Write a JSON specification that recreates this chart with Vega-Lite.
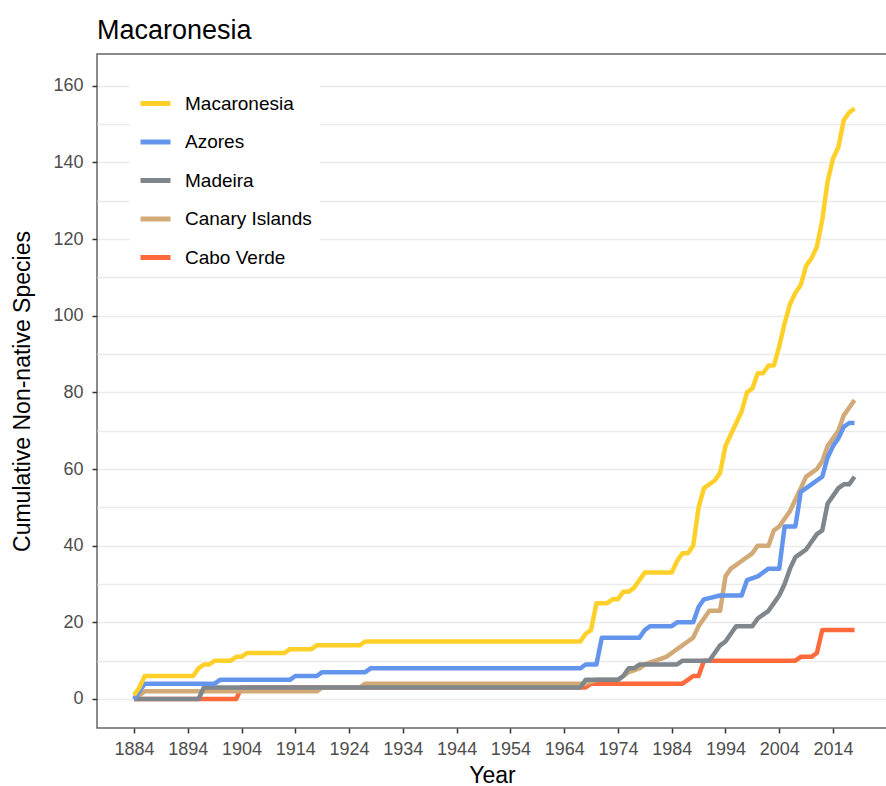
{
  "$schema": "https://vega.github.io/schema/vega-lite/v6.json",
  "autosize": {"type": "none"},
  "width": 790,
  "height": 674,
  "padding": {"left": 97, "top": 54, "right": 0, "bottom": 58},
  "background": "white",
  "config": {
    "font": "Liberation Sans",
    "view": {"stroke": "#666666", "strokeWidth": 1.5},
    "axis": {"labelFont": "Liberation Sans", "titleFont": "Liberation Sans"}
  },
  "title": {
    "text": "Macaronesia",
    "anchor": "start",
    "frame": "group",
    "fontSize": 27,
    "fontWeight": "normal",
    "color": "#000000",
    "baseline": "alphabetic",
    "offset": 16,
    "dy": 28
  },
  "data": {
    "values": [
      {"region": "Cabo Verde", "year": 1884, "species": 0},
      {"region": "Cabo Verde", "year": 1903, "species": 0},
      {"region": "Cabo Verde", "year": 1904, "species": 3},
      {"region": "Cabo Verde", "year": 1968, "species": 3},
      {"region": "Cabo Verde", "year": 1969, "species": 4},
      {"region": "Cabo Verde", "year": 1986, "species": 4},
      {"region": "Cabo Verde", "year": 1987, "species": 5},
      {"region": "Cabo Verde", "year": 1988, "species": 6},
      {"region": "Cabo Verde", "year": 1989, "species": 6},
      {"region": "Cabo Verde", "year": 1990, "species": 10},
      {"region": "Cabo Verde", "year": 2007, "species": 10},
      {"region": "Cabo Verde", "year": 2008, "species": 11},
      {"region": "Cabo Verde", "year": 2010, "species": 11},
      {"region": "Cabo Verde", "year": 2011, "species": 12},
      {"region": "Cabo Verde", "year": 2012, "species": 18},
      {"region": "Cabo Verde", "year": 2018, "species": 18},

      {"region": "Canary Islands", "year": 1884, "species": 0},
      {"region": "Canary Islands", "year": 1886, "species": 2},
      {"region": "Canary Islands", "year": 1918, "species": 2},
      {"region": "Canary Islands", "year": 1919, "species": 3},
      {"region": "Canary Islands", "year": 1926, "species": 3},
      {"region": "Canary Islands", "year": 1927, "species": 4},
      {"region": "Canary Islands", "year": 1968, "species": 4},
      {"region": "Canary Islands", "year": 1970, "species": 5},
      {"region": "Canary Islands", "year": 1974, "species": 5},
      {"region": "Canary Islands", "year": 1975, "species": 6},
      {"region": "Canary Islands", "year": 1976, "species": 7},
      {"region": "Canary Islands", "year": 1978, "species": 8},
      {"region": "Canary Islands", "year": 1979, "species": 9},
      {"region": "Canary Islands", "year": 1981, "species": 10},
      {"region": "Canary Islands", "year": 1983, "species": 11},
      {"region": "Canary Islands", "year": 1984, "species": 12},
      {"region": "Canary Islands", "year": 1985, "species": 13},
      {"region": "Canary Islands", "year": 1986, "species": 14},
      {"region": "Canary Islands", "year": 1987, "species": 15},
      {"region": "Canary Islands", "year": 1988, "species": 16},
      {"region": "Canary Islands", "year": 1989, "species": 19},
      {"region": "Canary Islands", "year": 1990, "species": 21},
      {"region": "Canary Islands", "year": 1991, "species": 23},
      {"region": "Canary Islands", "year": 1993, "species": 23},
      {"region": "Canary Islands", "year": 1994, "species": 32},
      {"region": "Canary Islands", "year": 1995, "species": 34},
      {"region": "Canary Islands", "year": 1996, "species": 35},
      {"region": "Canary Islands", "year": 1997, "species": 36},
      {"region": "Canary Islands", "year": 1998, "species": 37},
      {"region": "Canary Islands", "year": 1999, "species": 38},
      {"region": "Canary Islands", "year": 2000, "species": 40},
      {"region": "Canary Islands", "year": 2002, "species": 40},
      {"region": "Canary Islands", "year": 2003, "species": 44},
      {"region": "Canary Islands", "year": 2004, "species": 45},
      {"region": "Canary Islands", "year": 2005, "species": 47},
      {"region": "Canary Islands", "year": 2006, "species": 49},
      {"region": "Canary Islands", "year": 2007, "species": 52},
      {"region": "Canary Islands", "year": 2008, "species": 55},
      {"region": "Canary Islands", "year": 2009, "species": 58},
      {"region": "Canary Islands", "year": 2010, "species": 59},
      {"region": "Canary Islands", "year": 2011, "species": 60},
      {"region": "Canary Islands", "year": 2012, "species": 62},
      {"region": "Canary Islands", "year": 2013, "species": 66},
      {"region": "Canary Islands", "year": 2014, "species": 68},
      {"region": "Canary Islands", "year": 2015, "species": 70},
      {"region": "Canary Islands", "year": 2016, "species": 74},
      {"region": "Canary Islands", "year": 2017, "species": 76},
      {"region": "Canary Islands", "year": 2018, "species": 78},

      {"region": "Madeira", "year": 1884, "species": 0},
      {"region": "Madeira", "year": 1896, "species": 0},
      {"region": "Madeira", "year": 1897, "species": 3},
      {"region": "Madeira", "year": 1967, "species": 3},
      {"region": "Madeira", "year": 1968, "species": 5},
      {"region": "Madeira", "year": 1974, "species": 5},
      {"region": "Madeira", "year": 1975, "species": 6},
      {"region": "Madeira", "year": 1976, "species": 8},
      {"region": "Madeira", "year": 1977, "species": 8},
      {"region": "Madeira", "year": 1978, "species": 9},
      {"region": "Madeira", "year": 1985, "species": 9},
      {"region": "Madeira", "year": 1986, "species": 10},
      {"region": "Madeira", "year": 1991, "species": 10},
      {"region": "Madeira", "year": 1992, "species": 12},
      {"region": "Madeira", "year": 1993, "species": 14},
      {"region": "Madeira", "year": 1994, "species": 15},
      {"region": "Madeira", "year": 1995, "species": 17},
      {"region": "Madeira", "year": 1996, "species": 19},
      {"region": "Madeira", "year": 1999, "species": 19},
      {"region": "Madeira", "year": 2000, "species": 21},
      {"region": "Madeira", "year": 2001, "species": 22},
      {"region": "Madeira", "year": 2002, "species": 23},
      {"region": "Madeira", "year": 2003, "species": 25},
      {"region": "Madeira", "year": 2004, "species": 27},
      {"region": "Madeira", "year": 2005, "species": 30},
      {"region": "Madeira", "year": 2006, "species": 34},
      {"region": "Madeira", "year": 2007, "species": 37},
      {"region": "Madeira", "year": 2008, "species": 38},
      {"region": "Madeira", "year": 2009, "species": 39},
      {"region": "Madeira", "year": 2010, "species": 41},
      {"region": "Madeira", "year": 2011, "species": 43},
      {"region": "Madeira", "year": 2012, "species": 44},
      {"region": "Madeira", "year": 2013, "species": 51},
      {"region": "Madeira", "year": 2014, "species": 53},
      {"region": "Madeira", "year": 2015, "species": 55},
      {"region": "Madeira", "year": 2016, "species": 56},
      {"region": "Madeira", "year": 2017, "species": 56},
      {"region": "Madeira", "year": 2018, "species": 58},

      {"region": "Azores", "year": 1884, "species": 0},
      {"region": "Azores", "year": 1886, "species": 4},
      {"region": "Azores", "year": 1899, "species": 4},
      {"region": "Azores", "year": 1900, "species": 5},
      {"region": "Azores", "year": 1913, "species": 5},
      {"region": "Azores", "year": 1914, "species": 6},
      {"region": "Azores", "year": 1918, "species": 6},
      {"region": "Azores", "year": 1919, "species": 7},
      {"region": "Azores", "year": 1927, "species": 7},
      {"region": "Azores", "year": 1928, "species": 8},
      {"region": "Azores", "year": 1967, "species": 8},
      {"region": "Azores", "year": 1968, "species": 9},
      {"region": "Azores", "year": 1970, "species": 9},
      {"region": "Azores", "year": 1971, "species": 16},
      {"region": "Azores", "year": 1978, "species": 16},
      {"region": "Azores", "year": 1979, "species": 18},
      {"region": "Azores", "year": 1980, "species": 19},
      {"region": "Azores", "year": 1984, "species": 19},
      {"region": "Azores", "year": 1985, "species": 20},
      {"region": "Azores", "year": 1988, "species": 20},
      {"region": "Azores", "year": 1989, "species": 24},
      {"region": "Azores", "year": 1990, "species": 26},
      {"region": "Azores", "year": 1993, "species": 27},
      {"region": "Azores", "year": 1997, "species": 27},
      {"region": "Azores", "year": 1998, "species": 31},
      {"region": "Azores", "year": 2000, "species": 32},
      {"region": "Azores", "year": 2001, "species": 33},
      {"region": "Azores", "year": 2002, "species": 34},
      {"region": "Azores", "year": 2004, "species": 34},
      {"region": "Azores", "year": 2005, "species": 45},
      {"region": "Azores", "year": 2007, "species": 45},
      {"region": "Azores", "year": 2008, "species": 54},
      {"region": "Azores", "year": 2009, "species": 55},
      {"region": "Azores", "year": 2010, "species": 56},
      {"region": "Azores", "year": 2011, "species": 57},
      {"region": "Azores", "year": 2012, "species": 58},
      {"region": "Azores", "year": 2013, "species": 63},
      {"region": "Azores", "year": 2014, "species": 66},
      {"region": "Azores", "year": 2015, "species": 68},
      {"region": "Azores", "year": 2016, "species": 71},
      {"region": "Azores", "year": 2017, "species": 72},
      {"region": "Azores", "year": 2018, "species": 72},

      {"region": "Macaronesia", "year": 1884, "species": 1},
      {"region": "Macaronesia", "year": 1885, "species": 3},
      {"region": "Macaronesia", "year": 1886, "species": 6},
      {"region": "Macaronesia", "year": 1895, "species": 6},
      {"region": "Macaronesia", "year": 1896, "species": 8},
      {"region": "Macaronesia", "year": 1897, "species": 9},
      {"region": "Macaronesia", "year": 1898, "species": 9},
      {"region": "Macaronesia", "year": 1899, "species": 10},
      {"region": "Macaronesia", "year": 1902, "species": 10},
      {"region": "Macaronesia", "year": 1903, "species": 11},
      {"region": "Macaronesia", "year": 1904, "species": 11},
      {"region": "Macaronesia", "year": 1905, "species": 12},
      {"region": "Macaronesia", "year": 1912, "species": 12},
      {"region": "Macaronesia", "year": 1913, "species": 13},
      {"region": "Macaronesia", "year": 1917, "species": 13},
      {"region": "Macaronesia", "year": 1918, "species": 14},
      {"region": "Macaronesia", "year": 1926, "species": 14},
      {"region": "Macaronesia", "year": 1927, "species": 15},
      {"region": "Macaronesia", "year": 1967, "species": 15},
      {"region": "Macaronesia", "year": 1968, "species": 17},
      {"region": "Macaronesia", "year": 1969, "species": 18},
      {"region": "Macaronesia", "year": 1970, "species": 25},
      {"region": "Macaronesia", "year": 1972, "species": 25},
      {"region": "Macaronesia", "year": 1973, "species": 26},
      {"region": "Macaronesia", "year": 1974, "species": 26},
      {"region": "Macaronesia", "year": 1975, "species": 28},
      {"region": "Macaronesia", "year": 1976, "species": 28},
      {"region": "Macaronesia", "year": 1977, "species": 29},
      {"region": "Macaronesia", "year": 1978, "species": 31},
      {"region": "Macaronesia", "year": 1979, "species": 33},
      {"region": "Macaronesia", "year": 1984, "species": 33},
      {"region": "Macaronesia", "year": 1985, "species": 36},
      {"region": "Macaronesia", "year": 1986, "species": 38},
      {"region": "Macaronesia", "year": 1987, "species": 38},
      {"region": "Macaronesia", "year": 1988, "species": 40},
      {"region": "Macaronesia", "year": 1989, "species": 50},
      {"region": "Macaronesia", "year": 1990, "species": 55},
      {"region": "Macaronesia", "year": 1991, "species": 56},
      {"region": "Macaronesia", "year": 1992, "species": 57},
      {"region": "Macaronesia", "year": 1993, "species": 59},
      {"region": "Macaronesia", "year": 1994, "species": 66},
      {"region": "Macaronesia", "year": 1995, "species": 69},
      {"region": "Macaronesia", "year": 1996, "species": 72},
      {"region": "Macaronesia", "year": 1997, "species": 75},
      {"region": "Macaronesia", "year": 1998, "species": 80},
      {"region": "Macaronesia", "year": 1999, "species": 81},
      {"region": "Macaronesia", "year": 2000, "species": 85},
      {"region": "Macaronesia", "year": 2001, "species": 85},
      {"region": "Macaronesia", "year": 2002, "species": 87},
      {"region": "Macaronesia", "year": 2003, "species": 87},
      {"region": "Macaronesia", "year": 2004, "species": 92},
      {"region": "Macaronesia", "year": 2005, "species": 98},
      {"region": "Macaronesia", "year": 2006, "species": 103},
      {"region": "Macaronesia", "year": 2007, "species": 106},
      {"region": "Macaronesia", "year": 2008, "species": 108},
      {"region": "Macaronesia", "year": 2009, "species": 113},
      {"region": "Macaronesia", "year": 2010, "species": 115},
      {"region": "Macaronesia", "year": 2011, "species": 118},
      {"region": "Macaronesia", "year": 2012, "species": 125},
      {"region": "Macaronesia", "year": 2013, "species": 135},
      {"region": "Macaronesia", "year": 2014, "species": 141},
      {"region": "Macaronesia", "year": 2015, "species": 144},
      {"region": "Macaronesia", "year": 2016, "species": 151},
      {"region": "Macaronesia", "year": 2017, "species": 153},
      {"region": "Macaronesia", "year": 2018, "species": 154}
    ]
  },
  "mark": {"type": "line", "strokeWidth": 4.5, "strokeJoin": "round", "strokeCap": "butt", "clip": true},
  "encoding": {
    "x": {
      "field": "year",
      "type": "quantitative",
      "scale": {"domain": [1877.12, 2024.04], "nice": false, "zero": false},
      "axis": {
        "title": "Year",
        "values": [1884, 1894, 1904, 1914, 1924, 1934, 1944, 1954, 1964, 1974, 1984, 1994, 2004, 2014],
        "format": "d",
        "grid": false,
        "domain": false,
        "ticks": true,
        "tickSize": 5,
        "tickWidth": 1.5,
        "tickColor": "#333333",
        "labelFontSize": 18,
        "labelColor": "#4D4D4D",
        "labelPadding": 7,
        "titleFontSize": 23,
        "titleFontWeight": "normal",
        "titleColor": "#000000",
        "titlePadding": 6
      }
    },
    "y": {
      "field": "species",
      "type": "quantitative",
      "scale": {"domain": [-7.57, 168.27], "nice": false, "zero": false},
      "axis": {
        "title": "Cumulative Non-native Species",
        "values": [0, 10, 20, 30, 40, 50, 60, 70, 80, 90, 100, 110, 120, 130, 140, 150, 160],
        "labelExpr": "datum.value % 20 == 0 ? datum.label : ''",
        "tickOpacity": {"expr": "datum.value % 20 == 0 ? 1 : 0"},
        "grid": true,
        "gridColor": "#EBEBEB",
        "gridWidth": 1.3,
        "domain": false,
        "tickSize": 5,
        "tickWidth": 1.5,
        "tickColor": "#333333",
        "labelFontSize": 18,
        "labelColor": "#4D4D4D",
        "labelPadding": 9,
        "titleFontSize": 23,
        "titleFontWeight": "normal",
        "titleColor": "#000000",
        "titlePadding": 18
      }
    },
    "color": {
      "field": "region",
      "type": "nominal",
      "scale": {
        "domain": ["Macaronesia", "Azores", "Madeira", "Canary Islands", "Cabo Verde"],
        "range": ["#FFD02A", "#6495ED", "#7F878D", "#D2AA78", "#FF6A3D"]
      },
      "legend": {
        "title": null,
        "orient": "none",
        "legendX": 33,
        "legendY": 24,
        "padding": 8,
        "fillColor": "white",
        "symbolType": "stroke",
        "symbolSize": 900,
        "symbolStrokeWidth": 5,
        "labelFontSize": 19,
        "labelColor": "#000000",
        "labelOffset": 12,
        "rowPadding": 10.5,
        "labelLimit": 300
      }
    }
  }
}
